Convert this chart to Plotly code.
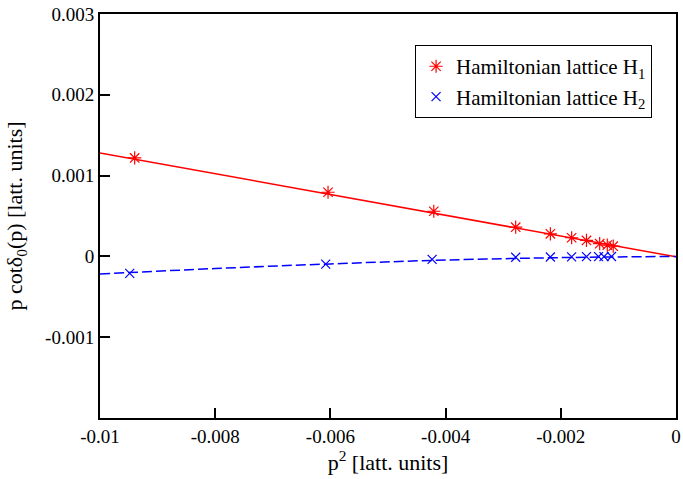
import plotly.graph_objects as go

# Data
h1_x = [-0.009398, -0.006041, -0.004205, -0.002783, -0.002181, -0.001812, -0.001554, -0.001325, -0.001193, -0.001090]
h1_y = [0.001219, 0.000794, 0.000559, 0.000362, 0.000280, 0.000231, 0.000198, 0.000157, 0.000140, 0.000127]

h2_x = [-0.009484, -0.006081, -0.004234, -0.002783, -0.002181, -0.001812, -0.001554, -0.001345, -0.001250, -0.001120]
h2_y = [-0.000210, -0.000095, -0.000037, -0.000010, -0.000007, -0.000005, -0.000003, -0.000002, -0.000002, -0.000001]

fit1_x = [-0.0100, 0.0000]
fit1_y = [0.001280, -0.000005]

fit2_x = [-0.0100, -0.0080, -0.0060, -0.0040, -0.0020, -0.0010, 0.0000]
fit2_y = [-0.000218, -0.000150, -0.000093, -0.000045, -0.000015, -0.000006, 0.000000]

x_ticks = [-0.01, -0.008, -0.006, -0.004, -0.002, 0]
x_labels = ["-0.01", "-0.008", "-0.006", "-0.004", "-0.002", "0"]
y_ticks = [-0.002, -0.001, 0, 0.001, 0.002, 0.003]
y_labels = ["", "-0.001", "0", "0.001", "0.002", "0.003"]

FONT = "Liberation Serif"

fig = go.Figure()
fig.add_trace(go.Scatter(x=fit1_x, y=fit1_y, mode="lines",
                         line=dict(color="#ff0000", width=1.5), showlegend=False, hoverinfo="skip"))
fig.add_trace(go.Scatter(x=fit2_x, y=fit2_y, mode="lines", line_shape="spline",
                         line=dict(color="#0000ff", width=1.5, dash="10px,4px"), showlegend=False, hoverinfo="skip"))
fig.add_trace(go.Scatter(x=h1_x, y=h1_y, mode="markers", name="Hamiltonian lattice H<sub>1</sub>",
                         marker=dict(symbol="asterisk-open", size=11, color="#ff0000",
                                     line=dict(color="#ff0000", width=1.2))))
fig.add_trace(go.Scatter(x=h2_x, y=h2_y, mode="markers", name="Hamiltonian lattice H<sub>2</sub>",
                         marker=dict(symbol="x-thin-open", size=9, color="#0000ff",
                                     line=dict(color="#0000ff", width=1.2))))

fig.update_xaxes(range=[-0.01, 0], tickvals=x_ticks, ticktext=x_labels,
                 showgrid=False, zeroline=False, showline=True, linecolor="black", linewidth=2,
                 mirror=True, ticks="inside", ticklen=10, tickwidth=1.5, tickcolor="black",
                 ticklabeloverflow="allow",
                 tickfont=dict(family=FONT, size=19, color="black"),
                 title=dict(text="p<sup>2</sup> [latt. units]", font=dict(family=FONT, size=22, color="black"),
                            standoff=8))
fig.update_yaxes(range=[-0.002, 0.003], tickvals=y_ticks, ticktext=y_labels,
                 showgrid=False, zeroline=False, showline=True, linecolor="black", linewidth=2,
                 mirror=True, ticks="inside", ticklen=10, tickwidth=1.5, tickcolor="black",
                 tickfont=dict(family=FONT, size=19, color="black"),
                 title=dict(text="p cotδ<sub>0</sub>(p) [latt. units]", font=dict(family=FONT, size=22, color="black"),
                            standoff=16))

fig.update_layout(
    width=683, height=479,
    margin=dict(l=100, r=2, t=14, b=61),
    paper_bgcolor="white", plot_bgcolor="white",
    font=dict(family=FONT, color="black"),
    legend=dict(x=0.547, y=0.923, xanchor="left", yanchor="top",
                bordercolor="black", borderwidth=1, bgcolor="white",
                font=dict(family=FONT, size=21, color="black")),
)

clip_js = (
    "var gd=document.getElementById('{plot_id}');"
    "if(gd){gd.style.overflow='hidden';if(gd.parentElement){gd.parentElement.style.overflow='hidden';}}"
    "document.documentElement.style.overflow='hidden';"
    "document.body.style.overflow='hidden';document.body.style.margin='0';"
)

fig.write_html("out.html", post_script=clip_js)
